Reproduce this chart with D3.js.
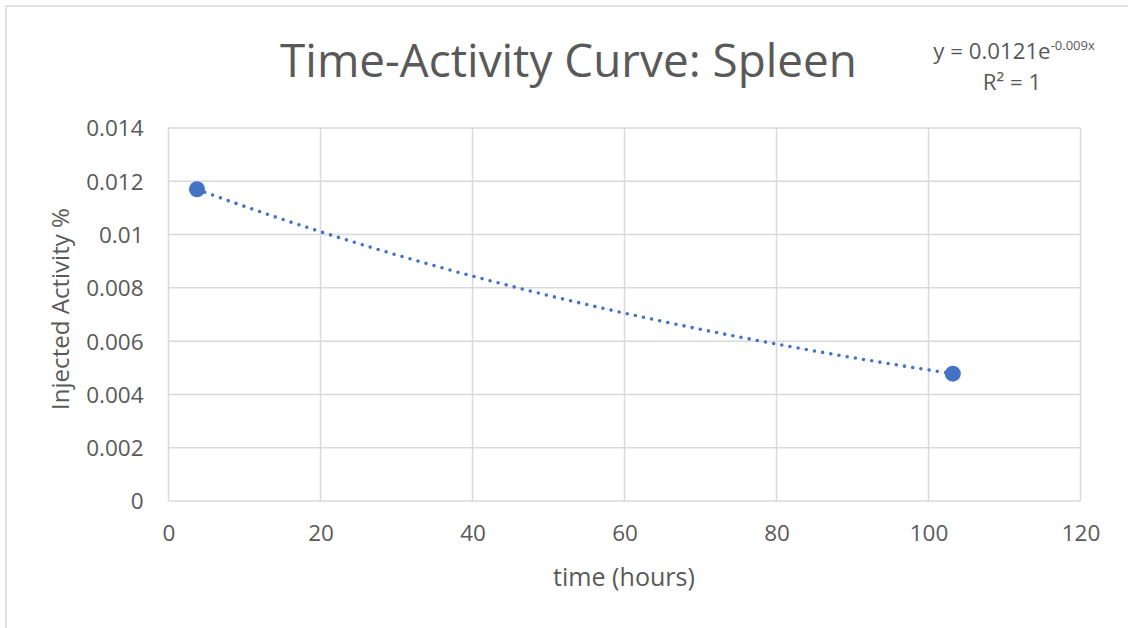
<!DOCTYPE html>
<html>
<head>
<meta charset="utf-8">
<script src="https://cdn.jsdelivr.net/npm/d3@7"></script>
<style>
  html, body { margin: 0; padding: 0; background: #fff; }
  svg { display: block; }
  text { font-family: "Open Sans", "Noto Sans", sans-serif; fill: #595959; }
</style>
</head>
<body>
<svg id="chart" width="1128" height="628"></svg>
<script>
// Measured spleen activity
const timeHours = [3.75, 103.2];
const injectedActivity = [0.0117, 0.00478];

// Axis ticks
const xTicks = [0, 20, 40, 60, 80, 100, 120];
const yTicks = [0, 0.002, 0.004, 0.006, 0.008, 0.01, 0.012, 0.014];

// Exponential trendline y = a * e^(b x)
const fitA = 0.0121;
const fitB = -0.009;
const fitR2 = 1;

const svg = d3.select("#chart");
const W = 1128, H = 628;
const plot = { left: 168.5, right: 1080.5, top: 128, bottom: 501 };

// chart frame
svg.append("rect")
  .attr("x", 6).attr("y", 6).attr("width", W + 10).attr("height", H + 10)
  .attr("fill", "#fff").attr("stroke", "#d9d9d9").attr("stroke-width", 1.5);

const x = d3.scaleLinear().domain([0, 120]).range([plot.left, plot.right]);
const y = d3.scaleLinear().domain([0, 0.014]).range([plot.bottom, plot.top]);

// fit text to a target width
function fitWidth(sel, target) {
  const w = sel.node().getComputedTextLength();
  const fs = parseFloat(sel.attr("font-size"));
  sel.attr("font-size", fs * target / w);
}

// gridlines
const grid = svg.append("g").attr("stroke", "#d9d9d9").attr("stroke-width", 1.5);
grid.selectAll(".h").data(yTicks).join("line")
  .attr("x1", plot.left).attr("x2", plot.right)
  .attr("y1", d => y(d)).attr("y2", d => y(d));
grid.selectAll(".v").data(xTicks).join("line")
  .attr("y1", plot.top).attr("y2", plot.bottom)
  .attr("x1", d => x(d)).attr("x2", d => x(d));

// axes (labels only)
const yAxis = svg.append("g")
  .attr("transform", `translate(${plot.left},0)`)
  .call(d3.axisLeft(y).tickValues(yTicks).tickSize(0).tickPadding(25)
    .tickFormat(d => d === 0 ? "0" : String(+d.toFixed(3))));
const xAxis = svg.append("g")
  .attr("transform", `translate(0,${plot.bottom})`)
  .call(d3.axisBottom(x).tickValues(xTicks).tickSize(0).tickPadding(24)
    .tickFormat(d3.format("d")));
[yAxis, xAxis].forEach(a => {
  a.select(".domain").remove();
  a.selectAll("text")
    .attr("font-family", "'Open Sans', sans-serif")
    .attr("font-size", 22.5).attr("fill", "#595959");
});
yAxis.selectAll("text").attr("dy", "0.35em");

// trendline (dotted)
const trendX = d3.range(0, 101).map(i => timeHours[0] + (timeHours[1] - timeHours[0]) * i / 100);
svg.append("path")
  .datum(trendX)
  .attr("fill", "none").attr("stroke", "#4472c4").attr("stroke-width", 3.6)
  .attr("stroke-linecap", "round").attr("stroke-dasharray", "0 8.3")
  .attr("d", d3.line().x(d => x(d)).y(d => y(fitA * Math.exp(fitB * d))));

// data points
svg.append("g").selectAll("circle")
  .data(timeHours.map((t, i) => [t, injectedActivity[i]]))
  .join("circle")
  .attr("cx", d => x(d[0])).attr("cy", d => y(d[1]))
  .attr("r", 8).attr("fill", "#4472c4");

// title
const title = svg.append("text")
  .attr("x", 568.5).attr("y", 77).attr("text-anchor", "middle")
  .attr("font-size", 40).attr("fill", "#595959")
  .text("Time-Activity Curve: Spleen");
fitWidth(title, 577);

// axis titles
const xt = svg.append("text")
  .attr("x", 624).attr("y", 586).attr("text-anchor", "middle")
  .attr("font-size", 21).text("time (hours)");
fitWidth(xt, 142);
const yt = svg.append("text")
  .attr("transform", "translate(69,309) rotate(-90)").attr("text-anchor", "middle")
  .attr("font-size", 21).text("Injected Activity %");
fitWidth(yt, 202);

// trendline equation
const eq = svg.append("text")
  .attr("x", 1014).attr("y", 59).attr("text-anchor", "middle").attr("font-size", 18);
eq.append("tspan").text(`y = ${fitA}e`);
eq.append("tspan").attr("font-size", 13).attr("dy", -9).text(`${fitB}x`);
fitWidth(eq, 172);
svg.append("text")
  .attr("x", 1012).attr("y", 90).attr("text-anchor", "middle")
  .attr("font-size", eq.attr("font-size"))
  .text(`R² = ${fitR2}`);
</script>
</body>
</html>
